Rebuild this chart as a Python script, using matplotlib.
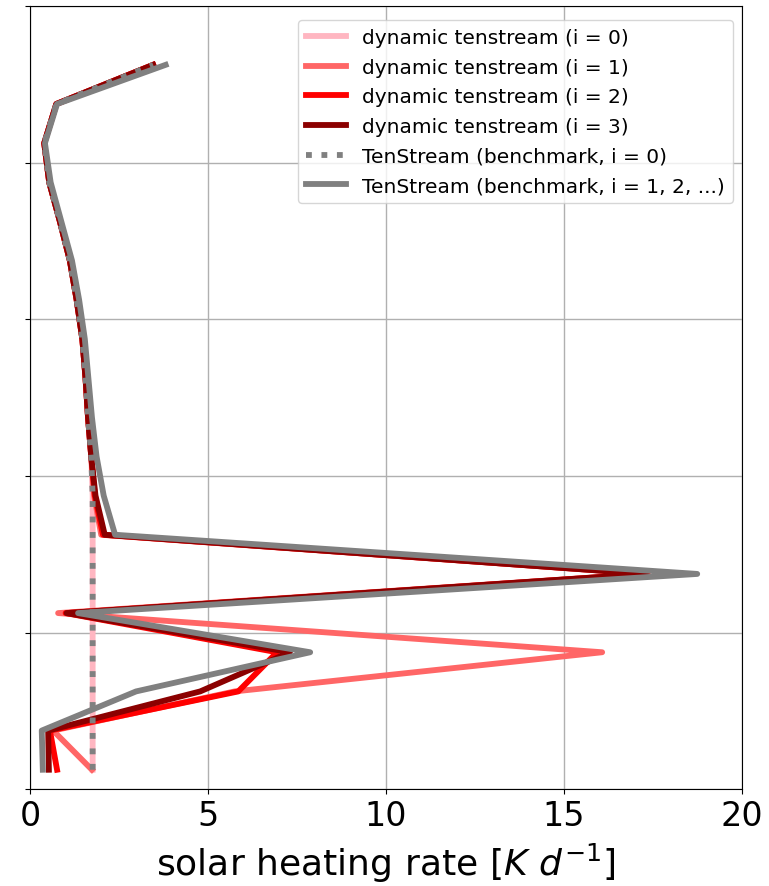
import matplotlib
matplotlib.use("Agg")
import matplotlib.pyplot as plt

# model levels (in y-tick units; tick labels are hidden in the original)
heights = [0.125, 0.375, 0.625, 0.875, 1.125, 1.375, 1.625, 1.875, 2.125, 2.375,
           2.625, 2.875, 3.125, 3.375, 3.625, 3.875, 4.125, 4.375, 4.625]

dyn_i0 = [1.76, 1.76, 1.76, 1.76, 1.76, 1.76, 1.76, 1.76, 1.72, 1.63,
          1.56, 1.47, 1.31, 1.12, 0.84, 0.54, 0.40, 0.74, 3.46]
dyn_i1 = [1.74, 0.65, 5.75, 16.07, 0.79, 17.30, 2.00, 1.80, 1.72, 1.63,
          1.56, 1.47, 1.31, 1.12, 0.84, 0.54, 0.40, 0.74, 3.46]
dyn_i2 = [0.76, 0.56, 5.85, 6.94, 1.00, 17.35, 2.05, 1.82, 1.72, 1.63,
          1.56, 1.47, 1.31, 1.12, 0.84, 0.54, 0.40, 0.74, 3.46]
dyn_i3 = [0.53, 0.51, 4.78, 7.30, 1.03, 17.30, 2.10, 1.84, 1.72, 1.63,
          1.56, 1.47, 1.31, 1.12, 0.84, 0.54, 0.40, 0.74, 3.46]
bench_i0 = [1.76, 1.76, 1.76, 1.76, 1.76, 1.76, 1.76, 1.76, 1.72, 1.63,
            1.56, 1.47, 1.31, 1.12, 0.84, 0.54, 0.40, 0.74, 3.46]
bench_i1 = [0.36, 0.33, 2.98, 7.87, 1.35, 18.74, 2.39, 2.07, 1.87, 1.74,
            1.64, 1.54, 1.38, 1.18, 0.88, 0.58, 0.42, 0.76, 3.81]

labels = ["dynamic tenstream (i = 0)", "dynamic tenstream (i = 1)",
          "dynamic tenstream (i = 2)", "dynamic tenstream (i = 3)",
          "TenStream (benchmark, i = 0)", "TenStream (benchmark, i = 1, 2, ...)"]
x_ticks = [0, 5, 10, 15, 20]
y_ticks = [0, 1, 2, 3, 4, 5]

fig = plt.figure(figsize=(7.69, 8.87), dpi=100)
ax = fig.add_axes([0.039, 0.109, 0.926, 0.883])

lw = 4.2
ax.plot(dyn_i0, heights, color="#ffb6c1", lw=lw, label=labels[0])
ax.plot(dyn_i1, heights, color="#ff6666", lw=lw, label=labels[1])
ax.plot(dyn_i2, heights, color="red", lw=lw, label=labels[2])
ax.plot(dyn_i3, heights, color="darkred", lw=lw, label=labels[3])
ax.plot(bench_i0, heights, color="gray", lw=lw, ls=":", label=labels[4])
ax.plot(bench_i1, heights, color="gray", lw=lw, label=labels[5])

ax.set_xlim(0, 20)
ax.set_ylim(0, 5)
ax.set_xticks(x_ticks)
ax.set_yticks(y_ticks)
ax.set_yticklabels([])
ax.tick_params(axis="x", labelsize=24)
ax.grid(True, color="#b0b0b0", lw=1)
ax.set_xlabel(r"solar heating rate [$K\ d^{-1}$]", fontsize=26, labelpad=6)
ax.legend(loc="upper right", fontsize=14.5, borderaxespad=0.45,
          bbox_to_anchor=(1.0, 0.994), labelspacing=0.53)

fig.savefig("out.png", dpi=100)
